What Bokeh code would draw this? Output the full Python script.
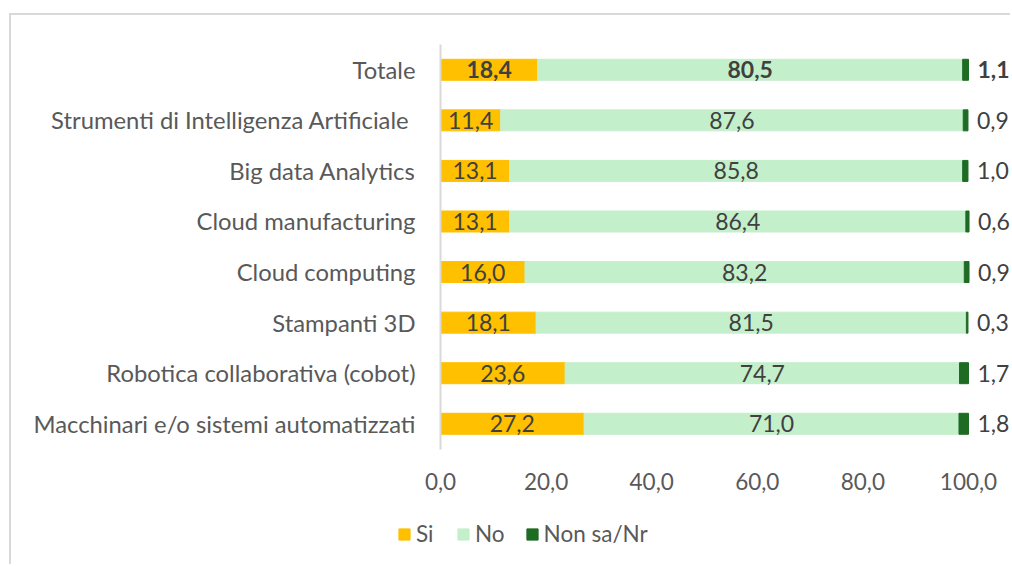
from bokeh.plotting import figure
from bokeh.models import (ColumnDataSource, Range1d, FixedTicker, CustomJSTickFormatter,
                          Legend, LegendItem, InlineStyleSheet)
from bokeh.core.properties import value
from bokeh.embed import file_html
from bokeh.resources import INLINE

categories = ["Totale", "Strumenti di Intelligenza Artificiale ", "Big data Analytics",
              "Cloud manufacturing", "Cloud computing", "Stampanti 3D",
              "Robotica collaborativa (cobot)", "Macchinari e/o sistemi automatizzati"]
si = [18.4, 11.4, 13.1, 13.1, 16.0, 18.1, 23.6, 27.2]
no = [80.5, 87.6, 85.8, 86.4, 83.2, 81.5, 74.7, 71.0]
nonsa = [1.1, 0.9, 1.0, 0.6, 0.9, 0.3, 1.7, 1.8]
series_names = ["Si", "No", "Non sa/Nr"]
x_ticks = [0, 20, 40, 60, 80, 100]

colors = ["#FFC000", "#C4EFCB", "#1E6B24"]
FONT = "Lato"

def fmt(v):
    return ("%.1f" % v).replace(".", ",")

n = len(categories)
ypos = [n - 1 - i for i in range(n)]  # first category on top
src = ColumnDataSource(dict(
    y=ypos,
    si_end=si,
    no_start=si,
    no_end=[a + b for a, b in zip(si, no)],
    ns_end=[a + b + c for a, b, c in zip(si, no, nonsa)],
    si_mid=[a / 2 for a in si],
    no_mid=[a + b / 2 for a, b in zip(si, no)],
    si_lbl=[fmt(v) for v in si],
    no_lbl=[fmt(v) for v in no],
    ns_lbl=[fmt(v) for v in nonsa],
    weight=["bold"] + ["normal"] * (n - 1),
))

# canvas geometry (pixels)
W, H = 1001, 551
zero_px = 429          # x position of value 0 inside the canvas
px_per_unit = 5.28
top_px = 29            # top of category area
pitch = 50.57          # pixels per category

x_range = Range1d(-zero_px / px_per_unit, (W - zero_px) / px_per_unit)
y_top = (n - 0.5) + top_px / pitch
y_range = Range1d(y_top - H / pitch, y_top)

p = figure(width=W, height=H, x_range=x_range, y_range=y_range,
           output_backend="svg", toolbar_location=None, min_border=0,
           min_border_left=0, min_border_right=0, min_border_top=0, min_border_bottom=0)
p.stylesheets = [InlineStyleSheet(css=":host { border-left: 2px solid #d9d9d9; border-top: 2px solid #d9d9d9; margin-top: 13px; margin-left: 9px; }")]
p.outline_line_color = None
p.xgrid.grid_line_color = None
p.ygrid.grid_line_color = None
p.background_fill_color = "white"

h = 0.415
r1 = p.hbar(y="y", left=0, right="si_end", height=h, color=colors[0], source=src)
r2 = p.hbar(y="y", left="no_start", right="no_end", height=h, color=colors[1], source=src)
r3 = p.hbar(y="y", left="no_end", right="ns_end", height=h, color=colors[2], source=src)

LBL = "23px"
p.text(x="si_mid", y="y", text="si_lbl", source=src, text_align="center", text_baseline="middle",
       text_font=value(FONT), text_font_size=LBL, text_color="#404040", text_font_style="weight")
p.text(x="no_mid", y="y", text="no_lbl", source=src, text_align="center", text_baseline="middle",
       text_font=value(FONT), text_font_size=LBL, text_color="#404040", text_font_style="weight")
p.text(x="ns_end", y="y", text="ns_lbl", source=src, text_align="left", text_baseline="middle",
       x_offset=9, text_font=value(FONT), text_font_size=LBL, text_color="#404040",
       text_font_style="weight")

# y axis (categories) at x = 0
p.yaxis.fixed_location = 0
p.yaxis.bounds = (-0.5, n - 0.5)
p.yaxis.ticker = FixedTicker(ticks=ypos)
p.yaxis.major_label_overrides = {yy: c for yy, c in zip(ypos, categories)}
p.yaxis.axis_line_color = "#d9d9d9"
p.yaxis.axis_line_width = 2
p.yaxis.major_tick_line_color = None
p.yaxis.minor_tick_line_color = None
p.yaxis.major_label_text_font = FONT
p.yaxis.major_label_text_font_size = "23.8px"
p.yaxis.major_label_text_color = "#595959"
p.yaxis.major_label_standoff = 19

# x axis (values) just under the bars
p.xaxis.fixed_location = -0.5
p.xaxis.ticker = FixedTicker(ticks=x_ticks)
p.xaxis.formatter = CustomJSTickFormatter(code="return tick.toFixed(1).replace('.', ',');")
p.xaxis.axis_line_color = None
p.xaxis.major_tick_line_color = None
p.xaxis.minor_tick_line_color = None
p.xaxis.major_label_text_font = FONT
p.xaxis.major_label_text_font_size = "22.5px"
p.xaxis.major_label_text_color = "#595959"
p.xaxis.major_label_standoff = 18

legend = Legend(items=[LegendItem(label=series_names[0], renderers=[r1]),
                       LegendItem(label=series_names[1], renderers=[r2]),
                       LegendItem(label=series_names[2], renderers=[r3])],
                orientation="horizontal", location=(386, 19),
                label_text_font=FONT, label_text_font_size="22.5px", label_text_color="#595959",
                glyph_width=14, glyph_height=14, label_standoff=5, spacing=20,
                padding=0, margin=0, border_line_color=None, background_fill_alpha=0)
p.add_layout(legend, "center")

open("out.html", "w").write(file_html(p, INLINE))
